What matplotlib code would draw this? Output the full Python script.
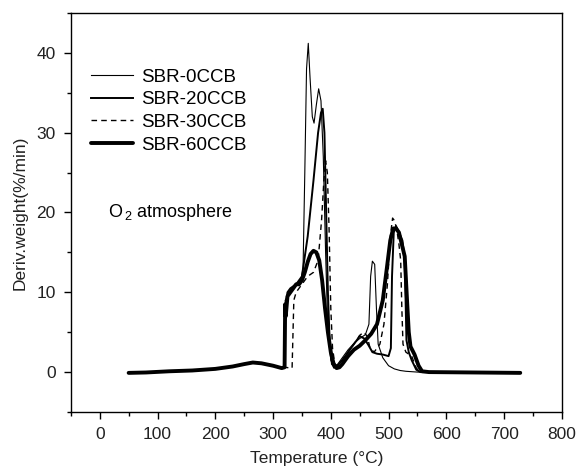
import matplotlib
matplotlib.use("Agg")
import matplotlib.pyplot as plt
from matplotlib.ticker import MultipleLocator

plt.rcParams['font.family'] = ['Liberation Sans', 'DejaVu Sans']
plt.rcParams['mathtext.fontset'] = 'custom'
plt.rcParams['mathtext.rm'] = 'Liberation Sans'

# shared low-temperature baseline (all four curves overlap here)
base_t = [50, 80, 120, 160, 200, 230, 250, 265, 280, 300, 315, 320]
base_w = [-0.1, -0.05, 0.1, 0.2, 0.4, 0.7, 1.0, 1.2, 1.1, 0.8, 0.5, 0.6]

t_0ccb = [320, 321, 330, 340, 348, 352, 355, 358, 361, 364, 368, 371, 375, 379, 383, 387,
          391, 395, 400, 405, 410, 420, 430, 440, 450, 460, 466, 469, 472, 476, 479, 482,
          490, 500, 510, 520, 530, 550, 728]
w_0ccb = [0.6, 9, 10, 11, 11.5, 13, 25, 38, 41.2, 37, 32, 31.2, 33.5, 35.5, 34, 27,
          15, 5, 1.5, 0.5, 0.8, 1.8, 2.8, 3.6, 4.2, 4.7, 6, 12, 13.9, 13.5, 8, 3.5,
          1.8, 0.8, 0.4, 0.2, 0.1, 0, -0.1]

t_20ccb = [320, 321, 325, 330, 340, 350, 360, 370, 378, 383, 386, 389, 392, 395, 398, 402,
           408, 420, 430, 440, 450, 458, 465, 472, 480, 490, 500, 504, 506, 509, 513, 518,
           524, 528, 531, 535, 540, 548, 555, 728]
w_20ccb = [0.6, 8, 10, 10.5, 11, 12, 17, 24, 30, 32.5, 33, 30, 20, 10, 4, 1,
           0.5, 1.5, 2.5, 3.5, 4.5, 4.2, 3.4, 2.5, 2.3, 2.2, 2, 3, 12, 17.5, 18.3, 17.5,
           16.5, 14, 4, 2.5, 1.5, 0.3, 0, 0]

t_30ccb = [320, 333, 336, 340, 350, 360, 370, 378, 384, 388, 391, 394, 397, 400, 403, 407,
           412, 420, 430, 440, 450, 457, 463, 468, 475, 485, 492, 498, 503, 507, 510, 514,
           518, 521, 523, 525, 530, 540, 548, 555, 728]
w_30ccb = [0.6, 0.5, 9, 10, 11, 12, 12.5, 14, 19, 24, 26.5, 25, 18, 8, 3, 1,
           0.8, 1.5, 2.5, 3.5, 4.6, 5, 4.5, 3, 2.5, 3.5, 6, 11, 17, 19.3, 19, 18,
           16, 14, 8, 3.5, 2.5, 2, 0.5, 0, 0]

t_60ccb = [320, 321, 322, 325, 330, 335, 340, 345, 350, 355, 360, 365, 370, 375, 380, 385,
           390, 395, 400, 405, 410, 415, 420, 430, 440, 450, 460, 470, 480, 490, 497, 503,
           508, 513, 518, 523, 528, 532, 535, 538, 545, 552, 558, 570, 728]
w_60ccb = [0.6, 8.5, 7, 9.5, 10, 10.5, 11, 11, 11.5, 12.5, 13.8, 14.8, 15.2, 15, 14, 11.5,
           8, 5, 2.5, 1, 0.5, 0.6, 1, 2, 2.8, 3.3, 4, 4.8, 6, 9, 13, 16.5,
           18, 18, 17.5, 16, 14.5, 9, 5, 3.2, 2.2, 0.8, 0.1, 0, -0.1]

labels = ["SBR-0CCB", "SBR-20CCB", "SBR-30CCB", "SBR-60CCB"]

fig = plt.figure(figsize=(5.81, 4.73), dpi=100)
ax = fig.add_axes([0.122, 0.129, 0.845, 0.8435])

ax.plot(base_t[:-1] + t_0ccb, base_w[:-1] + w_0ccb, color="black", lw=0.8, label=labels[0])
ax.plot(base_t[:-1] + t_20ccb, base_w[:-1] + w_20ccb, color="black", lw=1.4, label=labels[1])
ax.plot(base_t[:-1] + t_30ccb, base_w[:-1] + w_30ccb, color="black", lw=1.0,
        linestyle=(0, (4, 3)), label=labels[2])
ax.plot(base_t[:-1] + t_60ccb, base_w[:-1] + w_60ccb, color="black", lw=2.8,
        solid_capstyle="round", label=labels[3])

ax.set_xlim(-50, 800)
ax.set_ylim(-5, 45)
ax.xaxis.set_major_locator(MultipleLocator(100))
ax.xaxis.set_minor_locator(MultipleLocator(50))
ax.yaxis.set_major_locator(MultipleLocator(10))
ax.yaxis.set_minor_locator(MultipleLocator(5))
ax.tick_params(which="major", direction="out", length=5, width=1, labelsize=12.5,
               top=False, right=False, pad=6, labelcolor="#222222")
ax.tick_params(which="minor", direction="out", length=3, width=1, top=False, right=False)
for s in ax.spines.values():
    s.set_linewidth(1)

ax.set_xlabel("Temperature (°C)", fontsize=12.5, labelpad=6, color="#222222")
ax.set_ylabel("Deriv.weight(%/min)", fontsize=12.5, labelpad=6, color="#222222")

ax.legend(loc="upper left", bbox_to_anchor=(0.025, 0.88), frameon=False, fontsize=13.5,
          handlelength=2.25, handletextpad=0.45, labelspacing=0.3, borderaxespad=0)

ax.text(14, 20, "O$_{\\,2}$ atmosphere", fontsize=13, va="center", ha="left")

fig.savefig("out.png", dpi=100)
